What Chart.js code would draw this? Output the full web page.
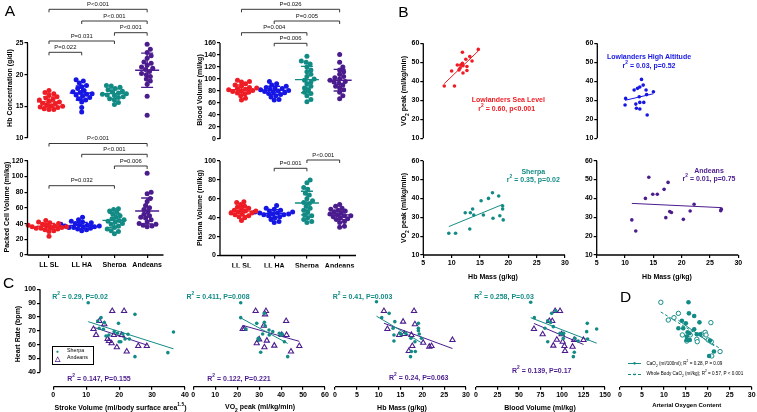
<!DOCTYPE html>
<html><head><meta charset="utf-8">
<script src="https://cdn.jsdelivr.net/npm/chart.js@4.4.1/dist/chart.umd.min.js"></script>
<style>
body{margin:0;width:757px;height:412px;background:#fff;position:relative;overflow:hidden;font-family:"Liberation Sans",Arial,sans-serif}
canvas{position:absolute;left:0;top:0}
.t{position:absolute;white-space:nowrap;font-weight:bold;font-size:7px;line-height:1;transform:translate(-50%,-50%);z-index:5}
.t sub,.t sup{font-size:70%;line-height:0}
.l{transform:translate(0,-50%)}
.r90{transform:translate(-50%,-50%) rotate(-90deg)}
.box{position:absolute;border:1px solid #000;z-index:5;background:#fff}
</style>
</head><body>
<script>
// ================= DATA =================
const groups = ['LL SL', 'LL HA', 'Sherpa', 'Andeans'];

// A – Hb concentration (g/dl)
const hbConcLLSL    = [17.5,17.2,17.0,16.8,16.5,16.3,16.1,16.0,15.8,15.7,15.5,15.4,15.2,15.1,15.0,14.9,14.8,14.6,14.5,14.5];
const hbConcLLHA    = [19.2,19.0,18.7,18.3,18.1,17.8,17.5,17.3,17.2,17.0,16.9,16.8,16.6,16.4,16.2,16.0,15.7,14.8,14.1];
const hbConcSherpa  = [18.3,18.2,18.0,17.8,17.6,17.4,17.3,17.1,17.0,16.9,16.8,16.7,16.5,16.4,16.2,16.0,15.6,15.3];
const hbConcAndeans = [24.8,24.0,23.5,23.0,22.6,22.0,21.8,21.5,21.2,21.0,20.8,20.5,20.2,20.0,19.7,19.3,19.0,18.5,16.6,13.6];
const hbConcMean = [15.7, 17.1, 17.0, 20.7];
const hbConcSD   = [0.8, 1.1, 0.75, 2.7];
const hbConcP = [[0,3,'P<0.001'],[1,3,'P<0.001'],[2,3,'P<0.001'],[0,2,'P=0.031'],[0,1,'P=0.022']];

// A – Blood volume (ml/kg)
const bvLLSL    = [98,96,95,92,90,88,86,85,84,83,82,81,80,79,78,77,75,72,68,65];
const bvLLHA    = [96,92,90,88,86,85,84,83,82,81,80,79,78,77,76,74,72,70,66,65];
const bvSherpa  = [138,130,128,125,120,115,112,108,104,100,98,95,92,88,85,82,78,76,72,66,62];
const bvAndeans = [141,128,120,115,112,108,104,102,100,98,96,95,93,90,88,85,82,78,72,67];
const bvMean = [82, 81, 99, 98];
const bvSD   = [8, 7, 22, 18];
const bvP = [[0,3,'P=0.026'],[1,3,'P=0.005'],[0,2,'P=0.004'],[1,2,'P=0.006']];

// A – Packed cell volume (ml/kg)
const pcvLLSL    = [44,42,41,40,39,38,37,37,36,36,35,35,34,34,33,32,31,30,24];
const pcvLLHA    = [48,45,43,42,41,40,39,38,38,37,37,36,36,35,35,34,33,32,31];
const pcvSherpa  = [59,58,56,54,52,50,48,46,45,44,43,42,40,39,37,35,33,31,30,27];
const pcvAndeans = [104,80,78,72,68,63,60,58,55,52,50,48,47,45,42,40,39,38,37,36];
const pcvMean = [36.5, 37.5, 44, 56];
const pcvSD   = [3.5, 4, 9, 16.5];
const pcvP = [[0,3,'P<0.001'],[1,3,'P<0.001'],[2,3,'P=0.006'],[0,2,'P=0.032']];

// A – Plasma volume (ml/kg)
const pvLLSL    = [57,56,54,52,51,50,49,48,47,47,46,45,45,44,43,42,41,40,37];
const pvLLHA    = [53,50,49,48,47,46,46,45,45,44,44,43,43,42,41,40,38,36,35];
const pvSherpa  = [80,77,72,70,66,64,60,58,56,55,52,50,48,46,43,42,40,38,36,35];
const pvAndeans = [54,52,50,49,48,47,46,45,44,43,42,42,41,40,39,38,36,35,31,30];
const pvMean = [47, 44.5, 55.5, 43];
const pvSD   = [4.8, 4, 12.5, 5];
const pvP = [[1,2,'P=0.001'],[2,3,'P<0.001']];

// B – Hb mass (g/kg) vs VO2 peak (ml/kg/min)
const bSL_hbm  = [8.7,10.5,10.0,11.0,11.3,11.5,11.9,11.9,12.0,12.0,12.5,12.7,12.7,13.2,13.6,14.7,11.6];
const bSL_vo2  = [37.5,37.5,45.4,48.6,46.0,47.0,55.3,49.5,48.2,44.4,51.6,47.8,45.7,53.0,50.7,56.8,48.6];
const bHA_hbm  = [9.9,10.0,11.5,11.8,11.9,12.1,12.4,12.5,12.5,12.5,12.8,13.1,13.2,13.6,13.7,13.8,14.9];
const bHA_vo2  = [27.5,31,35.4,28,25.8,36.3,31.9,37,28.9,25.4,41,38,28.9,35.4,33,22.3,34.5];
const bSh_hbm  = [9.5,10.7,13.2,12.4,13.3,13.7,13.9,15.2,15.6,16.5,17.2,17.3,18.3,18.5,19.0,19.0,19.1];
const bSh_vo2  = [21.5,21.5,23.8,32.4,32.4,34.4,31.2,38.8,31.2,40,43,29.5,41.3,30.8,36,34.4,28.6];
const bAn_hbm  = [11.2,11.9,13.6,14.2,14.9,15.7,16.9,17.2,17.6,17.9,18.2,20.3,21.5,22.2,26.9,27.0];
const bAn_vo2  = [28.6,22.7,40,51.2,42.2,42.2,44.8,29.8,48.5,33,32.5,28.9,33.3,36.9,33.5,34.3];

// C – Heart rate (bpm) vs stroke volume, VO2 peak, Hb mass, blood volume
const cSV_sh   = [10.6,13.5,14.5,13.9,15.2,15.5,16,16.9,18.5,19.8,19.5,20,20.5,21.1,21.8,22.7,23.1,24.8,24.8,34.8,36.5];
const cSV_shHR = [90.3,77.1,79.5,71.8,71.1,75.9,66.2,67,69.4,75.4,68.2,62.1,62.1,67.7,64.1,67.5,64.1,81.9,51.3,54.2,69.1];
const cSV_an   = [17.9,21.5,14,15.5,12.2,13,16.5,16.9,18.4,20.8,17.7,19.3,22.3,25.8,28.4];
const cSV_anHR = [84.3,84.3,77.1,74.7,71.3,67,64.1,62.6,67,67,61,58.1,55,59,59];
const cVO_sh   = [21.6,21.6,28.9,32.4,32.4,32.7,34.5,36.2,34.6,31.6,29.6,29.8,39.2,40.5,40,41.5,30.7,43,24];
const cVO_shHR = [90.3,79.5,75.4,82.6,76.1,73.7,70.6,69.4,67,67.7,64.6,63.4,68.2,67.7,66.8,62.1,54.5,51.3,71.3];
const cVO_an   = [28.4,33.1,32.7,42.3,22.5,23.2,32.1,40.3,42.5,30,33.5,28.9,36.9,32.4,44.5,48.3];
const cVO_anHR = [84.3,84.3,81.9,77.1,71.3,71.3,73.7,67,67,63.8,62.9,61,59.3,58.1,55,59];
const cHM_sh   = [9.5,10.7,12.4,13.7,13.3,13.5,13.5,14.9,15.1,16.2,17.4,17.5,17.3,18.3,18.4,19.1,19.1,19.1,19.8,19.3];
const cHM_shHR = [91,79.5,82.6,76.6,71.8,67,62.6,68.2,67.5,68.2,64.6,55,51.3,62.1,55,75.4,71.8,70.1,64.6,67.7];
const cHM_an   = [11.2,18.1,12,15.6,14.7,18.3,17.5,17.7,16.9,20.2,21.6,22.1,26.9,15.9];
const cHM_anHR = [84.3,84.3,71.3,76.6,67,74.7,67,59,55.4,61.4,58.5,59,63.4,67.7];
const cBV_sh   = [63.6,67.8,88,92.7,83.4,86.8,89.9,80.2,97.7,100.8,101.9,83.4,101.5,115,118.8,113.2,114.3,129.4,128.7,140.3,129.8];
const cBV_shHR = [90.6,79.5,82.6,84.5,77.3,76,73,71.8,68.2,67.5,68.2,62.1,64.5,64.6,62.6,51.3,54.5,75.4,69.4,71.3,64.1];
const cBV_an   = [92,97.7,85.2,88.7,67.4,77.5,89.9,99.6,100.8,102.8,103.5,112.3,114.2,125,94];
const cBV_anHR = [84.3,84.3,77.1,77.1,71.3,67.5,59.3,67.5,62.1,59,55.4,58.5,63.4,63.4,63.5];

// D – Heart rate vs arterial oxygen content
const dCaO2     = [15.6,14.1,15.7,16.9,18.1,13.3,14.4,15,15.4,15.8,15.2,15.2,15.9,16.9,17.5,18.3,20.5,21.4,20.3];
const dCaO2HR   = [90.6,77.3,82.6,80.7,76.1,71.8,71.8,75.4,68.9,68.2,65.8,63.4,63.4,71.1,67.5,67.5,62.9,55,51.8];
const dWbCaO2   = [9.3,11,13.3,12.3,20.7,14.2,16,17.5,17.6,18.7,19.4,19.6,20.1,20.8,22.8,20.9,15.2];
const dWbCaO2HR = [90.6,77.8,82.6,79.5,75.9,67,67,63.9,62.1,67.5,68.9,67,63.4,62.1,55,51.8,62.6];

// ticks
const ticksHbConc = [10,15,20,25];
const ticksBV = [0,20,40,60,80,100,120,140,160];
const ticksPCV = [0,20,40,60,80,100,120];
const ticksPV = [0,20,40,60,80,100];
const ticksVO2 = [10,20,30,40,50,60];
const ticksHbMassB = [5,10,15,20,25,30];
const ticksHR = [40,50,60,70,80,90,100];
const ticksSV = [0,10,20,30,40];
const ticksVO2C = [0,10,20,30,40,50,60];
const ticksHbMassC = [0,5,10,15,20,25,30];
const ticksBVC = [0,25,50,75,100,125,150];
const ticksCaO2 = [0,5,10,15,20,25,30];

// ================= STYLE / HELPERS =================
const RED='#ee1c24', BLUE='#1616e4', TEAL='#138b85', PURPLE='#4b1c8e';
const GCOL=[RED,BLUE,TEAL,PURPLE];
const FONT='"Liberation Sans", Arial, sans-serif';

const deco = {
  id:'deco',
  afterDatasetsDraw(chart, args, o){
    const ctx=chart.ctx, xs=chart.scales.x, ys=chart.scales.y, ca=chart.chartArea;
    ctx.save();
    ctx.strokeStyle='#000'; ctx.lineWidth=1.3;
    if(o.yLine){ctx.beginPath();ctx.moveTo(ca.left,ys.getPixelForValue(o.yLine[0]));ctx.lineTo(ca.left,ys.getPixelForValue(o.yLine[1]));ctx.stroke();}
    if(o.xLine){ctx.beginPath();ctx.moveTo(xs.getPixelForValue(o.xLine[0]),ca.bottom);ctx.lineTo(xs.getPixelForValue(o.xLine[1]),ca.bottom);ctx.stroke();}
    if(o.mean){
      ctx.lineWidth=1.4;
      o.mean.forEach((m,i)=>{
        const x=xs.getPixelForValue(i), y=ys.getPixelForValue(m);
        const yt=ys.getPixelForValue(m+o.sd[i]), yb=ys.getPixelForValue(m-o.sd[i]);
        ctx.strokeStyle=GCOL[i];
        ctx.beginPath();
        ctx.moveTo(x-12,y);ctx.lineTo(x+12,y);
        ctx.moveTo(x,yt);ctx.lineTo(x,yb);
        ctx.moveTo(x-6,yt);ctx.lineTo(x+6,yt);
        ctx.moveTo(x-6,yb);ctx.lineTo(x+6,yb);
        ctx.stroke();
      });
    }
    if(o.brackets){
      ctx.strokeStyle='#222'; ctx.lineWidth=0.9; ctx.fillStyle='#111';
      ctx.font='5.9px '+FONT; ctx.textAlign='center'; ctx.textBaseline='middle';
      o.brackets.forEach((b,k)=>{
        const x0=xs.getPixelForValue(b[0]), x1=xs.getPixelForValue(b[1]), y=o.levels[k];
        ctx.beginPath();ctx.moveTo(x0,y+3);ctx.lineTo(x0,y);ctx.lineTo(x1,y);ctx.lineTo(x1,y+3);ctx.stroke();
        ctx.fillText(b[2],(x0+x1)/2,y-5);
      });
    }
    ctx.restore();
  }
};

function mk(rect, xr, yr, datasets, o){
  const cv=document.createElement('canvas'); cv.width=757; cv.height=412; document.body.appendChild(cv);
  const YW=22, XH=o.xh||12;
  const yDisp=!!o.yTicks, xDisp=!!o.xTicks;
  const tickFont={family:FONT,size:7,weight:'bold'};
  new Chart(cv,{
    type:'scatter',
    data:{datasets},
    options:{
      responsive:false, animation:false, events:[],
      layout:{autoPadding:false,padding:{left:rect[0]-(yDisp?YW:0),top:rect[1],right:757-rect[2],bottom:412-rect[3]-(xDisp?XH:0)}},
      plugins:{legend:{display:false},tooltip:{enabled:false},deco:o.deco||{}},
      scales:{
        x:{type:'linear',min:xr[0],max:xr[1],display:xDisp,
           grid:{display:true,drawOnChartArea:false,drawTicks:true,tickLength:3,color:'#000',lineWidth:1.2},
           border:{display:false},
           ticks:{font:tickFont,color:'#000',padding:o.xpad||1,maxRotation:0,autoSkip:false,
                  callback:o.xLabels?(v=>o.xLabels[v]):(v=>v)},
           afterBuildTicks:s=>{if(o.xTicks) s.ticks=o.xTicks.map(v=>({value:v}));},
           afterFit:s=>{if(xDisp){s.height=XH;} s.paddingLeft=0;s.paddingRight=0;}},
        y:{type:'linear',min:yr[0],max:yr[1],display:yDisp,
           grid:{display:true,drawOnChartArea:false,drawTicks:true,tickLength:3,color:'#000',lineWidth:1.2},
           border:{display:false},
           ticks:{font:tickFont,color:'#000',padding:1,autoSkip:false,callback:v=>v},
           afterBuildTicks:s=>{if(o.yTicks) s.ticks=o.yTicks.map(v=>({value:v}));},
           afterFit:s=>{if(yDisp){s.width=YW;} s.paddingTop=0;s.paddingBottom=0;}}
      }
    },
    plugins:[deco]
  });
}

function swarm(values, pxY, pxX, d){
  const placed=[], offs=new Array(values.length);
  const order=values.map((v,i)=>i).sort((a,b)=>values[a]-values[b]);
  for(const i of order){
    const y=values[i]*pxY;
    for(let k=0;k<80;k++){
      const x=(k===0?0:Math.ceil(k/2)*(k%2?1:-1))*0.8;
      if(placed.every(p=>(p.x-x)**2+(p.y-y)**2>=d*d)){placed.push({x,y});offs[i]=x/pxX;break;}
    }
  }
  return offs;
}
function dotPanel(rect, yr, series, mean, sd, brackets, levels, yTicks, withX){
  const xr=[-0.657,3.5];
  const pxX=(rect[2]-rect[0])/(xr[1]-xr[0]), pxY=(rect[3]-rect[1])/(yr[1]-yr[0]);
  const ds=series.map((vals,i)=>{
    const off=swarm(vals,pxY,pxX,4.2);
    return {data:vals.map((v,j)=>({x:i+off[j],y:v})),backgroundColor:GCOL[i],borderWidth:0,pointRadius:2.5,clip:false};
  });
  mk(rect,xr,yr,ds,{yTicks,xTicks:withX?[0,1,2,3]:null,xLabels:groups,xpad:3,
     deco:{yLine:[yr[0],yr[1]],xLine:withX?xr:null,mean,sd,brackets,levels}});
}
function fit(xs,ys){
  const n=xs.length, mx=xs.reduce((a,b)=>a+b)/n, my=ys.reduce((a,b)=>a+b)/n;
  let sxy=0,sxx=0; for(let i=0;i<n;i++){sxy+=(xs[i]-mx)*(ys[i]-my);sxx+=(xs[i]-mx)**2;}
  const b=sxy/sxx,a=my-b*mx,x0=Math.min(...xs),x1=Math.max(...xs);
  return [{x:x0,y:a+b*x0},{x:x1,y:a+b*x1}];
}
const pts=(xs,ys)=>xs.map((x,i)=>({x,y:ys[i]}));
function lineDs(xs,ys,col,dash){return {data:fit(xs,ys),showLine:true,pointRadius:0,borderColor:col,borderWidth:1,borderDash:dash||[],clip:false};}
function dotDs(xs,ys,col,r){return {data:pts(xs,ys),backgroundColor:col,borderWidth:0,pointRadius:r,clip:false};}
function triDs(xs,ys,col){return {data:pts(xs,ys),pointStyle:'triangle',backgroundColor:'rgba(255,255,255,0)',borderColor:col,borderWidth:1.1,pointRadius:3,clip:false};}

// ================= PANEL A =================
dotPanel([27.5,43,163.5,138],[10,25],[hbConcLLSL,hbConcLLHA,hbConcSherpa,hbConcAndeans],hbConcMean,hbConcSD,hbConcP,[9.3,21,32.7,41,52.3],ticksHbConc,false);
dotPanel([220,43,356,139],[0,160],[bvLLSL,bvLLHA,bvSherpa,bvAndeans],bvMean,bvSD,bvP,[9.3,21,32.7,43.3],ticksBV,false);
dotPanel([27.5,160.7,163.5,255],[0,120],[pcvLLSL,pcvLLHA,pcvSherpa,pcvAndeans],pcvMean,pcvSD,pcvP,[143.5,154.3,166,185.7],ticksPCV,true);
dotPanel([220,161,356,255.5],[0,100],[pvLLSL,pvLLHA,pvSherpa,pvAndeans],pvMean,pvSD,pvP,[168.3,160],ticksPV,true);

// ================= PANEL B =================
function bPanel(rect,xs,ys,col,withX){
  mk(rect,[5,30],[10,60],[dotDs(xs,ys,col,1.8),lineDs(xs,ys,col)],
     {yTicks:ticksVO2,xTicks:withX?ticksHbMassB:null,deco:{yLine:[10,60],xLine:withX?[5,30]:null}});
}
bPanel([423.3,43.3,565,138.3],bSL_hbm,bSL_vo2,RED,false);
bPanel([597.3,43.3,739,138.3],bHA_hbm,bHA_vo2,BLUE,false);
bPanel([423.3,160.7,565,255],bSh_hbm,bSh_vo2,TEAL,true);
bPanel([596.7,160.7,738.3,255],bAn_hbm,bAn_vo2,PURPLE,true);

// ================= PANEL C / D =================
const yHR=[29.59,100];
function cPanel(l,r,xr,ticks,sx,sy,ax,ay,withY){
  mk([l,289.3,r,386.7],xr,yHR,[dotDs(sx,sy,TEAL,1.8),triDs(ax,ay,PURPLE),lineDs(sx,sy,TEAL),lineDs(ax,ay,PURPLE)],
     {yTicks:withY?ticksHR:null,xTicks:ticks,deco:{yLine:withY?[40,100]:null,xLine:[ticks[0],ticks[ticks.length-1]]}});
}
cPanel(40,185,[-4.04,40],ticksSV,cSV_sh,cSV_shHR,cSV_an,cSV_anHR,true);
cPanel(193.3,325,[0,60],ticksVO2C,cVO_sh,cVO_shHR,cVO_an,cVO_anHR,false);
cPanel(335,466,[0,30],ticksHbMassC,cHM_sh,cHM_shHR,cHM_an,cHM_anHR,false);
cPanel(476,605,[0,150],ticksBVC,cBV_sh,cBV_shHR,cBV_an,cBV_anHR,false);
mk([620,289.3,751.7,386.7],[0,30],yHR,[
   dotDs(dCaO2,dCaO2HR,TEAL,2.3),
   {data:pts(dWbCaO2,dWbCaO2HR),backgroundColor:'#fff',borderColor:TEAL,borderWidth:1,pointRadius:2.2,clip:false},
   lineDs(dCaO2,dCaO2HR,TEAL),lineDs(dWbCaO2,dWbCaO2HR,TEAL,[3,2])],
   {xTicks:ticksCaO2,deco:{xLine:[0,30]}});

// ================= TEXT =================
function T(html,x,y,opt={}){
  const d=document.createElement('div'); d.className='t'+(opt.cls?' '+opt.cls:'');
  d.innerHTML=html; d.style.left=x+'px'; d.style.top=y+'px';
  if(opt.c) d.style.color=opt.c; if(opt.s) d.style.fontSize=opt.s+'px';
  if(opt.w) d.style.fontWeight=opt.w;
  document.body.appendChild(d); return d;
}
// panel letters
T('A',10,10.5,{s:15.5,w:'normal'}); T('B',403.3,11.5,{s:15.5,w:'normal'});
T('C',8.5,283,{s:15.5,w:'normal'}); T('D',625.5,297,{s:15.5,w:'normal'});
// y titles
T('Hb Concentration (g/dl)',8.5,88,{cls:'r90'});
T('Blood Volume (ml/kg)',198.5,90,{cls:'r90'});
T('Packed Cell Volume (ml/kg)',6,207,{cls:'r90'});
T('Plasma Volume (ml/kg)',198.5,208,{cls:'r90'});
T('VO<sub>2</sub> peak (ml/kg/min)',403.5,91,{cls:'r90'});
T('VO<sub>2</sub> peak (ml/kg/min)',403.5,208,{cls:'r90'});
T('Heart Rate (bpm)',16.5,334,{cls:'r90'});
// x titles
T('Hb Mass (g/kg)',493,275.5); T('Hb Mass (g/kg)',667,275.5);
T('Stroke Volume (ml/body surface area<sup>1.5</sup>)',120.5,406.5);
T('VO<sub>2</sub> peak (ml/kg/min)',260,406.5);
T('Hb Mass (g/kg)',402,406.5);
T('Blood Volume (ml/kg)',540,406.5);
T('Arterial Oxygen Content',686.7,404.5,{s:6});
// B annotations
T('Lowlanders Sea Level',508.3,99.3,{c:RED}); T('r<sup>2</sup> = 0.60, p&lt;0.001',506.7,108.3,{c:RED});
T('Lowlanders High Altitude',649,56,{c:BLUE}); T('r<sup>2</sup> = 0.03, p=0.52',649,65,{c:BLUE});
T('Sherpa',533.3,171,{c:TEAL}); T('r<sup>2</sup> = 0.35, p=0.02',533.3,179.3,{c:TEAL});
T('Andeans',709,170,{c:PURPLE}); T('r<sup>2</sup> = 0.01, p=0.75',709,178.3,{c:PURPLE});
// C annotations
T('R<sup>2</sup> = 0.29, P=0.02',80,295.7,{c:TEAL}); T('R<sup>2</sup> = 0.147, P=0.155',99,377.7,{c:PURPLE});
T('R<sup>2</sup> = 0.411, P=0.008',218,295.7,{c:TEAL}); T('R<sup>2</sup> = 0.122, P=0.221',239,377.7,{c:PURPLE});
T('R<sup>2</sup> = 0.41, P=0.003',362.5,295.7,{c:TEAL}); T('R<sup>2</sup> = 0.24, P=0.063',418.7,376.7,{c:PURPLE});
T('R<sup>2</sup> = 0.258, P=0.03',504,295.7,{c:TEAL}); T('R<sup>2</sup> = 0.139, P=0.17',541.7,370,{c:PURPLE});
// C legend
const bx=document.createElement('div'); bx.className='box';
Object.assign(bx.style,{left:'51.5px',top:'345.5px',width:'40px',height:'17px'}); document.body.appendChild(bx);
T('●',57.3,351,{c:TEAL,s:5,w:'normal'}); T('Sherpa',67,351,{cls:'l',s:5.3,w:'normal'});
T('△',57.3,358.3,{c:PURPLE,s:7,w:'bold'}); T('Andeans',67,358.3,{cls:'l',s:5.3,w:'normal'});
// D legend
const ln=(y,dash)=>{const d=document.createElement('div');Object.assign(d.style,{position:'absolute',left:'628px',top:y+'px',width:'13px',borderTop:'1px '+(dash?'dashed ':'solid ')+TEAL,zIndex:5});document.body.appendChild(d);};
ln(363,false); ln(373.5,true);
T('●',634.5,363.3,{c:TEAL,s:6,w:'normal'}); T('○',634.5,373.8,{c:TEAL,s:6,w:'bold'});
T('CaO<sub>2</sub> (ml/100ml); R<sup>2</sup> = 0.28, P = 0.09',646.5,363.5,{cls:'l',s:4.6,w:'normal'});
T('Whole Body CaO<sub>2</sub> (ml/kg); R<sup>2</sup> = 0.57, P &lt; 0.001',646.5,374,{cls:'l',s:4.6,w:'normal'});
</script>
</body></html>
